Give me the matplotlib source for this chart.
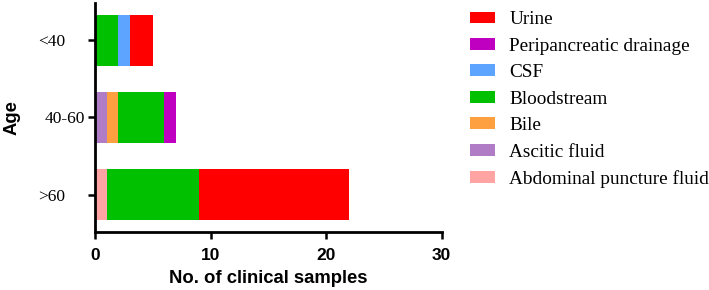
import numpy as np
import matplotlib.pyplot as plt
from matplotlib.transforms import ScaledTranslation

ages = ["<40", "40-60", ">60"]
sources = ["Abdominal puncture fluid", "Ascitic fluid", "Bile", "Bloodstream",
           "CSF", "Peripancreatic drainage", "Urine"]
abdominal = [0, 0, 1]
ascitic = [0, 1, 0]
bile = [0, 1, 0]
blood = [2, 4, 8]
csf = [1, 0, 0]
peri = [0, 1, 0]
urine = [2, 0, 13]
colors = ["#FFA3A3", "#B07CC6", "#FFA040", "#00C000", "#5CA4FF", "#C000C0", "#FF0000"]


def main():
    fig = plt.figure(figsize=(7.09, 2.9), dpi=100)
    ax = fig.add_axes([0.134, 0.2, 0.489, 0.79])
    y = np.arange(len(ages))
    left = np.zeros(len(ages))
    handles = []
    for name, vals, c in zip(sources, [abdominal, ascitic, bile, blood, csf, peri, urine], colors):
        vals = np.array(vals, dtype=float)
        h = ax.barh(y, vals, left=left, height=0.66, color=c, label=name)
        handles.append(h)
        left += vals
    ax.set_ylim(2.48, -0.48)
    ax.set_xlim(0, 30)
    ax.set_xticks([0, 10, 20, 30])
    ax.set_yticks(y)
    ax.set_yticklabels(ages, family="Liberation Serif", fontsize=12.5)
    for t in ax.get_xticklabels():
        t.set_family("Liberation Sans")
        t.set_fontweight("bold")
        t.set_fontsize(12.5)
    ax.set_xlabel("No. of clinical samples", family="Liberation Sans",
                  fontweight="bold", fontsize=13.3, labelpad=5)
    ax.set_ylabel("Age", family="Liberation Sans", fontweight="bold",
                  fontsize=13.3, labelpad=12.5)
    for s in ["top", "right"]:
        ax.spines[s].set_visible(False)
    for s in ["left", "bottom"]:
        ax.spines[s].set_linewidth(2)
    ax.tick_params(width=1.8, length=5, color="black")
    ax.tick_params(axis="y", pad=2)
    ax.tick_params(axis="x", pad=6.5)
    # the short labels sit further from the axis in the original
    shift = ScaledTranslation(-0.2, 0, fig.dpi_scale_trans)
    for i, t in enumerate(ax.get_yticklabels()):
        if i != 1:
            t.set_transform(t.get_transform() + shift)

    fig.legend(handles[::-1], sources[::-1], loc="upper left",
               bbox_to_anchor=(0.663, 0.961), frameon=False, borderpad=0,
               borderaxespad=0,
               prop={"family": "Liberation Serif", "size": 13.9},
               handlelength=1.3, handleheight=0.57, labelspacing=0.49,
               handletextpad=0.73)
    plt.savefig("out.png")


if __name__ == '__main__':
    main()
